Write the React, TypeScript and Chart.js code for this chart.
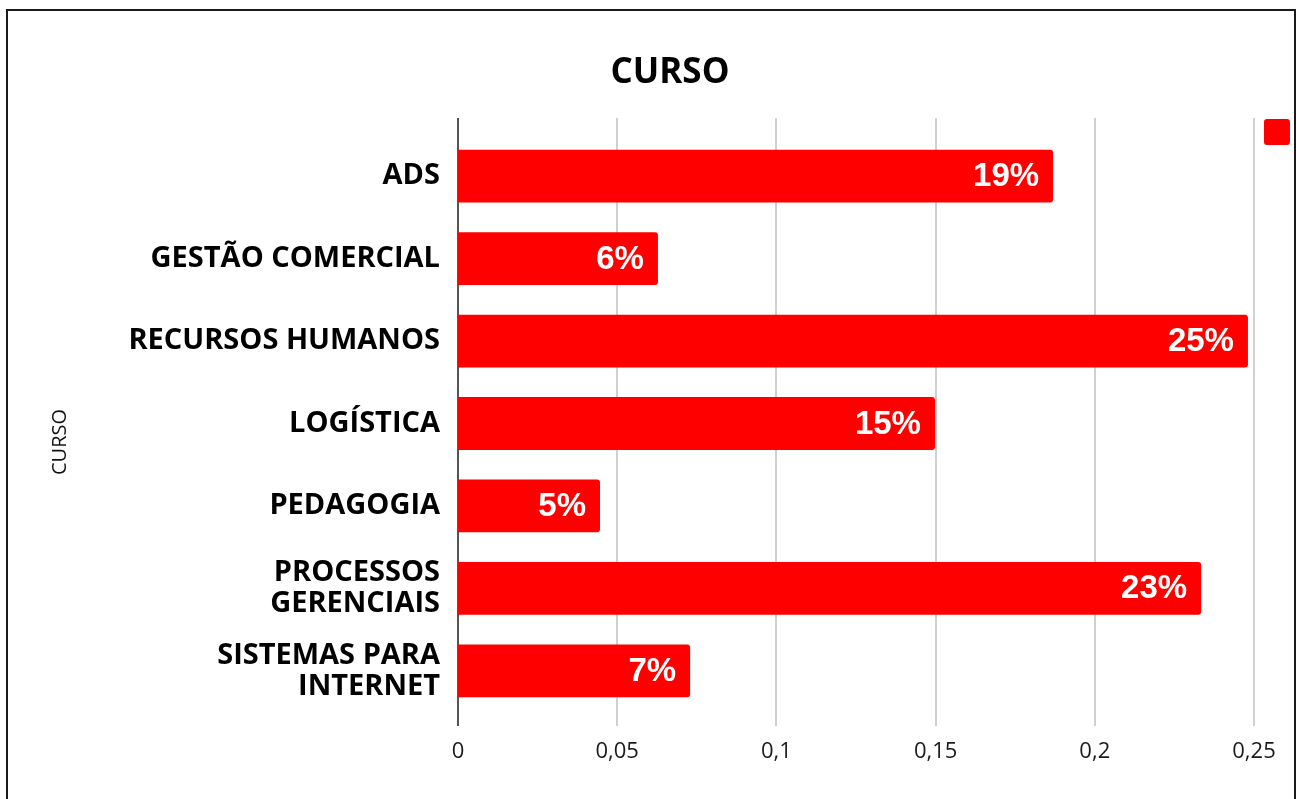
import React, { useEffect, useRef } from "react";
import { Chart, registerables } from "chart.js";

Chart.register(...registerables);

const categories: (string | string[])[] = [
  "ADS",
  "GESTÃO COMERCIAL",
  "RECURSOS HUMANOS",
  "LOGÍSTICA",
  "PEDAGOGIA",
  ["PROCESSOS", "GERENCIAIS"],
  ["SISTEMAS PARA", "INTERNET"],
];
const values = [0.1869, 0.0628, 0.2481, 0.1498, 0.0446, 0.2334, 0.0729];
const valueLabels = ["19%", "6%", "25%", "15%", "5%", "23%", "7%"];
const xTickLabels = ["0", "0,05", "0,1", "0,15", "0,2", "0,25"];
const chartTitle = "CURSO";
const yAxisTitle = "CURSO";

const RED = "#ff0000";

const gridPlugin = {
  id: "customGrid",
  beforeDatasetsDraw(chart: any) {
    const { ctx, chartArea, scales } = chart;
    const xs = scales.x;
    const top = chartArea.top - 17;
    const bottom = chartArea.bottom + 14;
    ctx.save();
    xs.ticks.forEach((t: any) => {
      const px = Math.round(xs.getPixelForValue(t.value));
      if (Math.abs(t.value) < 1e-9) return;
      ctx.strokeStyle = "#d0d0d0";
      ctx.lineWidth = 2;
      ctx.beginPath();
      ctx.moveTo(px, top);
      ctx.lineTo(px, bottom);
      ctx.stroke();
    });
    const x0 = Math.round(xs.getPixelForValue(0));
    ctx.strokeStyle = "#555555";
    ctx.lineWidth = 2;
    ctx.beginPath();
    ctx.moveTo(x0, top);
    ctx.lineTo(x0, bottom);
    ctx.stroke();
    ctx.restore();
  },
};

const labelPlugin = {
  id: "valueLabels",
  afterDatasetsDraw(chart: any) {
    const { ctx } = chart;
    const meta = chart.getDatasetMeta(0);
    ctx.save();
    ctx.fillStyle = "#ffffff";
    ctx.font = "bold 33px 'Liberation Sans', Arial, sans-serif";
    ctx.textAlign = "right";
    ctx.textBaseline = "middle";
    meta.data.forEach((el: any, i: number) => {
      ctx.fillText(valueLabels[i], el.x - 14, el.y + 1);
    });
    ctx.restore();
  },
  afterDraw(chart: any) {
    const { ctx, chartArea } = chart;
    ctx.save();
    // legend swatch
    ctx.fillStyle = RED;
    const lx = chartArea.right + 10;
    const ly = chartArea.top - 16;
    ctx.beginPath();
    if ((ctx as any).roundRect) {
      (ctx as any).roundRect(lx, ly, 26, 26, 3);
    } else {
      ctx.rect(lx, ly, 26, 26);
    }
    ctx.fill();
    // y axis title
    ctx.fillStyle = "#111111";
    ctx.font = "20px 'Open Sans', sans-serif";
    ctx.textAlign = "center";
    ctx.textBaseline = "middle";
    ctx.translate(52, 431);
    ctx.rotate(-Math.PI / 2);
    ctx.fillText(yAxisTitle, 0, 0);
    ctx.restore();
  },
};

export default function App() {
  const ref = useRef<HTMLCanvasElement | null>(null);
  useEffect(() => {
    if (!ref.current) return;
    const chart = new Chart(ref.current, {
      type: "bar",
      data: {
        labels: categories as any,
        datasets: [
          {
            label: "",
            data: values,
            backgroundColor: RED,
            borderRadius: 3,
            borderSkipped: "start",
            categoryPercentage: 1,
            barPercentage: 0.64,
          },
        ],
      },
      options: {
        indexAxis: "y",
        responsive: false,
        animation: false,
        layout: { padding: { left: 38, right: 0, top: 0, bottom: 0 } },
        plugins: {
          legend: { display: false },
          tooltip: { enabled: false },
          title: {
            display: true,
            text: chartTitle,
            color: "#000000",
            font: { family: "'Open Sans', sans-serif", size: 35, weight: "bold", lineHeight: 1.2 },
            padding: { top: 41, bottom: 41 },
          },
        },
        scales: {
          x: {
            type: "linear",
            min: 0,
            max: 0.25,
            ticks: {
              stepSize: 0.05,
              color: "#1a1a1a",
              padding: 27,
              font: { family: "'Open Sans', sans-serif", size: 22, lineHeight: 1.2 },
              callback: (_v: any, i: number) => xTickLabels[i],
            },
            grid: { display: false, drawTicks: false },
            border: { display: false },
            afterFit: (s: any) => {
              s.height = 87;
              s.paddingLeft = 0;
              s.paddingRight = 40;
            },
          },
          y: {
            ticks: {
              color: "#000000",
              padding: 18,
              font: { family: "'Open Sans', sans-serif", size: 29, weight: "bold", lineHeight: 1.07 },
            },
            grid: { display: false, drawTicks: false },
            border: { display: false },
            afterFit: (s: any) => {
              s.width = 412;
              s.paddingTop = 0;
              s.paddingBottom = 0;
            },
          },
        },
      },
      plugins: [gridPlugin, labelPlugin],
    } as any);
    return () => chart.destroy();
  }, []);

  return (
    <div
      style={{
        position: "absolute",
        left: 6,
        top: 9,
        width: 1290,
        height: 800,
        border: "2px solid #1a1a1a",
        boxSizing: "border-box",
        background: "#ffffff",
      }}
    >
      <canvas
        ref={ref}
        width={1286}
        height={788}
        style={{ position: "absolute", left: 0, top: 0, width: 1286, height: 788 }}
      />
    </div>
  );
}
